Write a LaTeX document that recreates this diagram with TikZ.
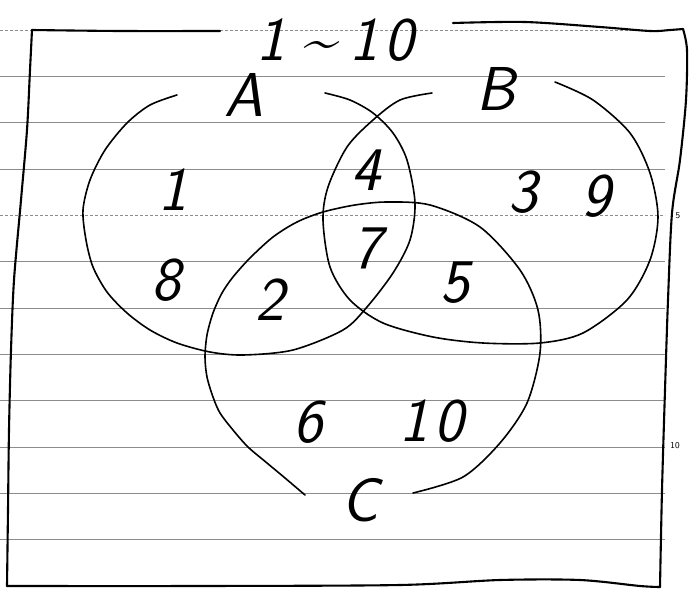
\documentclass[tikz,border=0pt]{standalone}
\usepackage{fontspec}
\begin{document}
\begin{tikzpicture}[x=1pt,y=-1pt,
  rule/.style={draw=black!45,line width=0.9pt},
  ink/.style={draw=black,line width=2.1pt,line cap=round,line join=round},
  thin ink/.style={draw=black,line width=1.6pt,line cap=round,line join=round},
  hand/.style={font=\fontsize{62}{62}\selectfont\sffamily\itshape,inner sep=0pt},
  margin/.style={font=\fontsize{9}{9}\selectfont\sffamily,inner sep=0pt}]
\useasboundingbox (0,0) rectangle (694,589);
\fill[white] (0,0) rectangle (694,589);
% ruled lines
\foreach \yy in {76,122,169,261,308,354,400,447,493,539}
  \draw[rule] (0,\yy) -- (665,\yy);
\foreach \yy in {30,215}
  \draw[rule,densely dashed] (0,\yy) -- (665,\yy);
% frame
\draw[ink] plot[smooth] coordinates {(220,31) (120,31) (32,30)};
\draw[ink] plot[smooth] coordinates {(32,30) (30,70) (27,130) (21,200) (14,280) (11,350) (9,430) (8,510) (7,586)};
\draw[ink] plot[smooth] coordinates {(7,586) (200,586) (400,585) (500,580) (580,580) (640,586) (660,587)};
\draw[ink] plot[smooth] coordinates {(660,587) (662,490) (665,390) (668,300) (672,213) (680,160) (686,100) (687,50) (683,29)};
\draw[ink] plot[smooth] coordinates {(453,23) (525,22) (600,27) (650,31) (670,30) (683,29)};
% set A
\draw[thin ink] plot[smooth] coordinates {(177,95) (150,105) (127,123) (105,150) (90,180) (83,210) (86,240) (93,267) (107,292) (127,313) (150,330) (177,343) (210,352) (243,355) (293,350) (343,330) (367,307) (393,273) (410,240) (415,203) (407,160) (393,133) (373,113) (350,100) (325,93)};
% set B
\draw[thin ink] plot[smooth] coordinates {(432,93) (400,100) (373,120) (347,147) (328,187) (323,220) (330,267) (350,300) (383,323) (433,337) (483,343) (540,343) (583,333) (627,300) (650,260) (658,217) (650,173) (630,133) (593,100) (555,82)};
% set C
\draw[thin ink] plot[smooth] coordinates {(305,495) (285,478) (267,463) (248,447) (233,430) (220,413) (213,397) (207,377) (205,357) (207,335) (213,313) (222,293) (233,277) (250,258) (273,237) (297,222) (323,212) (355,205) (387,202) (430,205) (480,227) (520,270) (538,310) (540,353) (527,403) (500,443) (463,477) (413,493)};
% labels
\node[hand] (range) at (335,40) {1\kern16pt\textasciitilde\kern14pt1\kern6pt0};
\node[hand] (lA) at (244,95) {A};
\node[hand] (lB) at (496,89) {B};
\node[hand] (lC) at (360,500) {C};
\node[hand] (n1) at (173,190) {1};
\node[hand] (n8) at (166,280) {8};
\node[hand] (n2) at (270,300) {2};
\node[hand] (n4) at (366,170) {4};
\node[hand] (n7) at (367,248) {7};
\node[hand] (n5) at (455,283) {5};
\node[hand] (n3) at (523,192) {3};
\node[hand] (n9) at (596,196) {9};
\node[hand] (n6) at (308,422) {6};
\node[hand] (n10) at (432,421) {1\kern6pt0};
\node[margin] (m5) at (678,216) {5};
\node[margin] (m10) at (675,446) {10};
\end{tikzpicture}
\end{document}
